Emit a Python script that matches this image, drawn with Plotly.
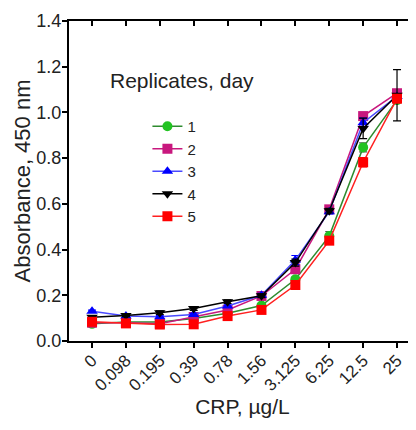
import plotly.graph_objects as go

concentrations = ["0", "0.098", "0.195", "0.39", "0.78", "1.56", "3.125", "6.25", "12.5", "25"]
x_idx = list(range(len(concentrations)))

day1 = [0.075, 0.083, 0.083, 0.098, 0.121, 0.155, 0.270, 0.459, 0.847, 1.054]
day2 = [0.080, 0.080, 0.076, 0.105, 0.136, 0.197, 0.314, 0.576, 0.984, 1.084]
day3 = [0.130, 0.109, 0.106, 0.116, 0.153, 0.200, 0.354, 0.566, 0.955, 1.070]
day4 = [0.104, 0.112, 0.124, 0.142, 0.172, 0.198, 0.343, 0.570, 0.930, 1.075]
day5 = [0.084, 0.077, 0.072, 0.073, 0.109, 0.136, 0.245, 0.439, 0.782, 1.060]

err1 = [0.005, 0.005, 0.005, 0.005, 0.005, 0.008, 0.010, 0.020, 0.020, 0.010]
err2 = [0.005, 0.005, 0.005, 0.005, 0.005, 0.008, 0.010, 0.010, 0.010, 0.010]
err3 = [0.005, 0.005, 0.005, 0.005, 0.005, 0.008, 0.020, 0.010, 0.020, 0.010]
err4 = [0.005, 0.005, 0.008, 0.008, 0.008, 0.008, 0.015, 0.010, 0.045, 0.112]
err5 = [0.005, 0.005, 0.005, 0.005, 0.005, 0.008, 0.010, 0.010, 0.020, 0.010]

day_labels = ["1", "2", "3", "4", "5"]
y_ticks = [0.0, 0.2, 0.4, 0.6, 0.8, 1.0, 1.2, 1.4]

series = [
    (day1, err1, "circle", "#22c322", "#2e8b2e"),
    (day2, err2, "square", "#c8187e", "#c8187e"),
    (day3, err3, "triangle-up", "#0000ff", "#4a4aff"),
    (day4, err4, "triangle-down", "#000000", "#000000"),
    (day5, err5, "square", "#ff0000", "#ff2020"),
]

FONT = "Liberation Sans, Arial, sans-serif"
fig = go.Figure()
for (vals, errs, sym, mcol, lcol), name in zip(series, day_labels):
    fig.add_trace(go.Scatter(
        x=x_idx, y=vals, name=name, mode="lines+markers",
        line=dict(color=lcol, width=1.5),
        marker=dict(symbol=sym, size=10, color=mcol),
        error_y=dict(type="data", array=errs, color=mcol if mcol != "#22c322" else "#555555",
                     thickness=1.2, width=4),
    ))

# empty trace to register the mirrored (top/right) axes
fig.add_trace(go.Scatter(x=[None], y=[None], xaxis="x2", yaxis="y2",
                         showlegend=False, hoverinfo="skip"))

xrange = [-0.68, 9.56]
fig.update_layout(
    width=408, height=414,
    margin=dict(l=61, r=0, t=13, b=81),
    paper_bgcolor="white", plot_bgcolor="white",
    font=dict(family=FONT, color="#222222", size=18),
    showlegend=True,
    legend=dict(x=0.226, y=0.722, xanchor="left", yanchor="top",
                font=dict(size=15, color="#222222"), bgcolor="rgba(0,0,0,0)",
                tracegroupgap=0),
    xaxis=dict(range=xrange, tickvals=x_idx, ticktext=concentrations, tickangle=-45,
               showline=True, linecolor="black", linewidth=2, automargin=False,
               ticks="outside", ticklen=5, tickwidth=2, tickcolor="black",
               ticklabelstandoff=-4,
               showgrid=False, zeroline=False, tickfont=dict(size=17),
               title=dict(text="CRP, µg/L", font=dict(size=21), standoff=4)),
    yaxis=dict(range=[0, 1.4], tickvals=y_ticks, tickformat=".1f", automargin=False,
               showline=True, linecolor="black", linewidth=2,
               ticks="outside", ticklen=5, tickwidth=2, tickcolor="black",
               ticklabelstandoff=-3,
               showgrid=False, zeroline=False, tickfont=dict(size=18),
               title=dict(text="Absorbance, 450 nm", font=dict(size=22), standoff=0)),
    xaxis2=dict(overlaying="x", side="top", range=xrange, tickvals=x_idx, automargin=False,
                showticklabels=False, showline=True, linecolor="black", linewidth=2,
                ticks="inside", ticklen=5, tickwidth=2, tickcolor="black",
                showgrid=False, zeroline=False),
    yaxis2=dict(overlaying="y", side="right", range=[0, 1.4], tickvals=y_ticks, automargin=False,
                showticklabels=False, showline=False,
                ticks="inside", ticklen=4, tickwidth=2, tickcolor="black",
                showgrid=False, zeroline=False),
    annotations=[dict(text="Replicates, day", xref="paper", yref="paper",
                      x=0.112, y=0.815, xanchor="left", yanchor="middle",
                      showarrow=False, font=dict(size=21, color="#222222"))],
)

fig.write_html("out.html")
